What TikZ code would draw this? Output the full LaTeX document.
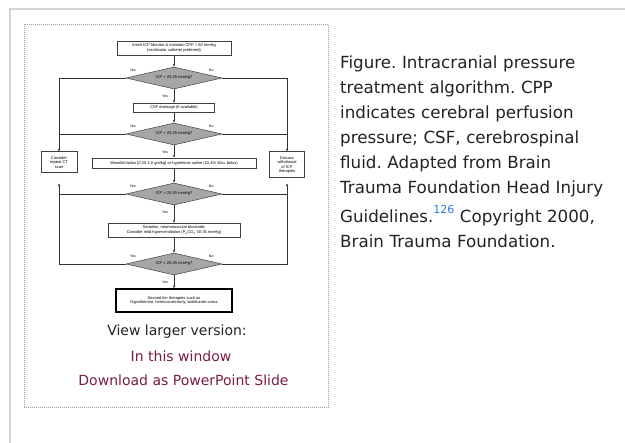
\documentclass[tikz,border=0pt]{standalone}
\usepackage{fontspec}
\usetikzlibrary{arrows.meta, positioning, shapes.geometric}
\newfontfamily\chartfont{Liberation Sans}
\newfontfamily\pagefont{DejaVu Sans}
\definecolor{textgrey}{RGB}{34,34,34}
\definecolor{linkred}{RGB}{122,28,68}
\definecolor{refblue}{RGB}{42,122,226}
\definecolor{framegrey}{RGB}{212,212,212}
\definecolor{dotgrey}{RGB}{160,160,160}
\frenchspacing

\begin{document}
\begin{tikzpicture}[
    x=1pt, y=-1pt,
    >={Stealth[length=3pt,width=2.4pt]},
    flow/.style={draw=black!80, line width=0.5pt},
    stepbox/.style={draw=black!75, fill=white, line width=0.5pt,
                    inner sep=1pt, align=center,
                    font=\chartfont\fontsize{4}{4.6}\selectfont},
    sidebox/.style={stepbox, line width=1pt},
    decision/.style={diamond, aspect=4.4, draw=black!75, fill=black!35,
                     line width=0.5pt, minimum width=96pt,
                     minimum height=22pt, inner sep=0pt,
                     font=\chartfont\fontsize{4}{4.6}\selectfont},
    lbl/.style={font=\chartfont\fontsize{3.6}{4}\selectfont, inner sep=0pt},
    pagetext/.style={font=\pagefont\fontsize{14}{17}\selectfont,
                     inner sep=0pt, anchor=base}
  ]
  \useasboundingbox (0,0) rectangle (625,443);
  \draw[framegrey, line width=2pt] (10,443) -- (10,9.5) -- (625,9.5);
  \draw[dotgrey, line width=1pt, dash pattern=on 1pt off 1pt]
    (24.5,24.5) rectangle (328.5,407.5);

  \node[stepbox, minimum width=114pt, minimum height=14pt] (icp) at (174,48)
    {Insert ICP Monitor \& maintain CPP > 60 mmHg\\(ventricular catheter preferred)};
  \node[decision] (q1) at (174,78) {ICP > 20-25 mmHg?};
  \node[stepbox, minimum width=81pt, minimum height=9pt] (csf) at (174,107.5)
    {CSF drainage (if available)};
  \node[decision] (q2) at (174,134) {ICP > 20-25 mmHg?};
  \node[sidebox, minimum width=36pt, minimum height=21pt] (ct) at (59,162.5)
    {Consider\\repeat CT\\scan};
  \node[sidebox, minimum width=35pt, minimum height=26pt] (wd) at (287,165)
    {Discuss\\withdrawal\\of ICP\\therapies};
  \node[stepbox, minimum width=164pt, minimum height=10pt] (mann) at (174,163)
    {Mannitol bolus (0.25-1.0 gm/kg) or hypertonic saline (23.4\% 30cc bolus)};
  \node[decision] (q3) at (174,194) {ICP > 20-25 mmHg?};
  \node[stepbox, minimum width=132pt, minimum height=14pt] (sed) at (174,230)
    {Sedation, neuromuscular blockade;\\Consider mild hyperventilation
     (P\textsubscript{a}CO\textsubscript{2} 30-35 mmHg)};
  \node[decision] (q4) at (174,264) {ICP > 20-25 mmHg?};
  \node[stepbox, draw=black, line width=1.6pt, minimum width=116pt,
        minimum height=23pt] (tier) at (174,300.5)
    {Second tier therapies such as\\Hypothermia, hemicraniectomy, barbiturate coma};

  \draw[flow, ->] (icp) -- (q1);
  \draw[flow, ->] (q1.west) -| (ct.north);
  \draw[flow, ->] (q1.east) -| (wd.north);
  \draw[flow, ->] (q1.south) -- (csf.north);
  \draw[flow, ->] (csf) -- (q2);
  \draw[flow] (q2.west) -- (q2.west -| ct.north);
  \draw[flow] (q2.east) -- (q2.east -| wd.north);
  \draw[flow, ->] (q2.south) -- (mann.north);
  \draw[flow, ->] (mann) -- (q3);
  \draw[flow, ->, shorten >=10pt] (q4.west) -| (ct.south);
  \draw[flow, ->, shorten >=5pt] (q4.east) -| (wd.south);
  \draw[flow] (q3.west) -- (q3.west -| ct.south);
  \draw[flow] (q3.east) -- (q3.east -| wd.south);
  \draw[flow, ->] (q3.south) -- (sed.north);
  \draw[flow, ->] (sed) -- (q4);
  \draw[flow, ->] (q4.south) -- (tier.north);

  \foreach \q in {q1,q2,q3,q4} {
    \node[lbl] (\q-yes) at ([shift={(7,-8)}]\q.west) {Yes};
    \node[lbl] (\q-no) at ([shift={(-11,-8)}]\q.east) {No};
    \node[lbl] (\q-down) at ([shift={(-9,7)}]\q.south) {Yes};
  }

  \node[pagetext, textgrey] (view) at (177,336) {View larger version:};
  \node[pagetext, linkred] (window) at (181,362) {In this window};
  \node[pagetext, linkred] (slide) at (183.5,386) {Download as PowerPoint Slide};

  \node[inner sep=0pt, anchor=base west, text width=280pt, align=left,
        textgrey, font=\pagefont\fontsize{16.7}{25}\selectfont]
        (caption) at (340,69)
    {Figure. Intracranial pressure\\
     treatment algorithm. CPP\\
     indicates cerebral perfusion\\
     pressure; CSF, cerebrospinal\\
     fluid. Adapted from Brain\\
     Trauma Foundation Head Injury\\[4pt]
     Guidelines.\raisebox{9pt}{\fontsize{11}{11}\selectfont\color{refblue}126}
     Copyright 2000,\\
     Brain Trauma Foundation.};
\end{tikzpicture}
\end{document}
